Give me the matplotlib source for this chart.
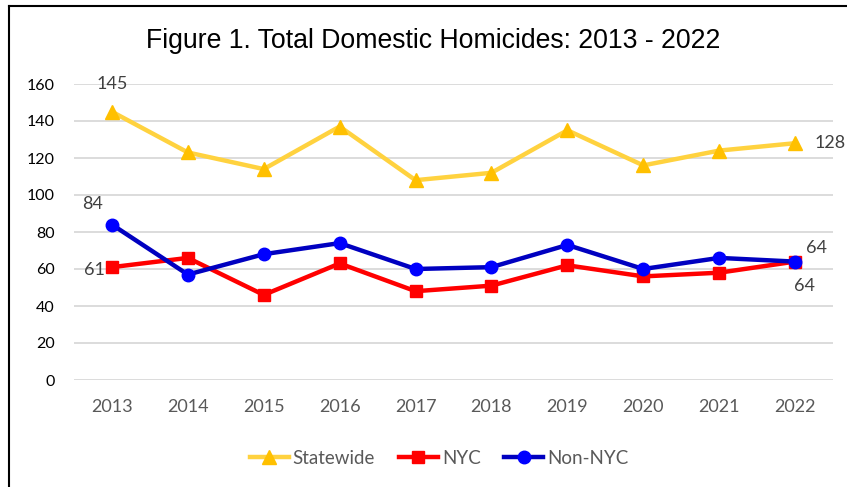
import matplotlib
matplotlib.use("Agg")
import matplotlib.pyplot as plt
from matplotlib.lines import Line2D

years = ["2013", "2014", "2015", "2016", "2017", "2018", "2019", "2020", "2021", "2022"]
statewide = [145, 123, 114, 137, 108, 112, 135, 116, 124, 128]
nyc = [61, 66, 46, 63, 48, 51, 62, 56, 58, 64]
non_nyc = [84, 57, 68, 74, 60, 61, 73, 60, 66, 64]
yticks = [0, 20, 40, 60, 80, 100, 120, 140, 160]

W, H = 847, 487
fig = plt.figure(figsize=(W / 100, H / 100), dpi=100)
ax = fig.add_axes([74 / W, 1 - 380 / H, (833 - 74) / W, (380 - 84) / H])

x = list(range(len(years)))
lw = 3.2
ax.plot(x, statewide, color="#FFD23F", lw=lw, marker="^", ms=10,
        mfc="#FFC000", mec="#FFC000", zorder=3)
ax.plot(x, nyc, color="#FF0000", lw=lw, marker="s", ms=9,
        mfc="#FF0000", mec="#FF0000", zorder=4)
ax.plot(x, non_nyc, color="#0000C0", lw=lw, marker="o", ms=9,
        mfc="#0000FF", mec="#0000FF", zorder=5)

ax.set_xlim(-0.5, len(years) - 0.5)
ax.set_ylim(0, 160)
ax.set_yticks(yticks)
ax.set_xticks(x)
ax.set_xticklabels(years)
ax.grid(axis="y", color="#D9D9D9", lw=1.3)
ax.set_axisbelow(True)
for s in ax.spines.values():
    s.set_visible(False)
ax.tick_params(length=0)
ax.tick_params(axis="x", labelsize=13, colors="#595959", pad=14)
ax.tick_params(axis="y", labelsize=11.5, colors="#000000", pad=14)
for lab in ax.get_xticklabels() + ax.get_yticklabels():
    lab.set_family("Lato")

lab_kw = dict(fontsize=13, color="#404040", family="Lato")
ax.annotate(str(statewide[0]), (0, statewide[0]), xytext=(0, 14), textcoords="offset points",
            ha="center", va="bottom", **lab_kw)
ax.annotate(str(non_nyc[0]), (0, non_nyc[0]), xytext=(-6.5, 9), textcoords="offset points",
            ha="right", va="bottom", **lab_kw)
ax.annotate(str(nyc[0]), (0, nyc[0]), xytext=(-5, -2), textcoords="offset points",
            ha="right", va="center", **lab_kw)
ax.annotate(str(statewide[-1]), (9, statewide[-1]), xytext=(14, 0), textcoords="offset points",
            ha="left", va="center", **lab_kw)
ax.annotate(str(non_nyc[-1]), (9, non_nyc[-1]), xytext=(8, 4), textcoords="offset points",
            ha="left", va="bottom", **lab_kw)
ax.annotate(str(nyc[-1]), (9, nyc[-1]), xytext=(7, -12), textcoords="offset points",
            ha="center", va="top", **lab_kw)

fig.text(433 / W, 1 - 41 / H, "Figure 1. Total Domestic Homicides: 2013 - 2022",
         ha="center", va="center", fontsize=19.2, family="Liberation Sans",
         color="#000000")

handles = [
    Line2D([], [], color="#FFD23F", lw=lw, marker="^", ms=10, mfc="#FFC000", mec="#FFC000"),
    Line2D([], [], color="#FF0000", lw=lw, marker="s", ms=9, mfc="#FF0000", mec="#FF0000"),
    Line2D([], [], color="#0000C0", lw=lw, marker="o", ms=9, mfc="#0000FF", mec="#0000FF"),
]
leg = fig.legend(handles, ["Statewide", "NYC", "Non-NYC"], loc="center",
                 bbox_to_anchor=(439 / W, 1 - 458 / H), ncol=3, frameon=False,
                 handlelength=2.1, handletextpad=0.2, columnspacing=1.25,
                 prop={"family": "Lato", "size": 13.5})
for t in leg.get_texts():
    t.set_color("#595959")

# outer frame (left and top edges visible)
fig.add_artist(Line2D([9 / W, 9 / W], [0, 1 - 5.5 / H], transform=fig.transFigure,
                      color="black", lw=1.5))
fig.add_artist(Line2D([9 / W, 1], [1 - 5.5 / H, 1 - 5.5 / H], transform=fig.transFigure,
                      color="black", lw=1.5))

fig.savefig("out.png", dpi=100, facecolor="white")
